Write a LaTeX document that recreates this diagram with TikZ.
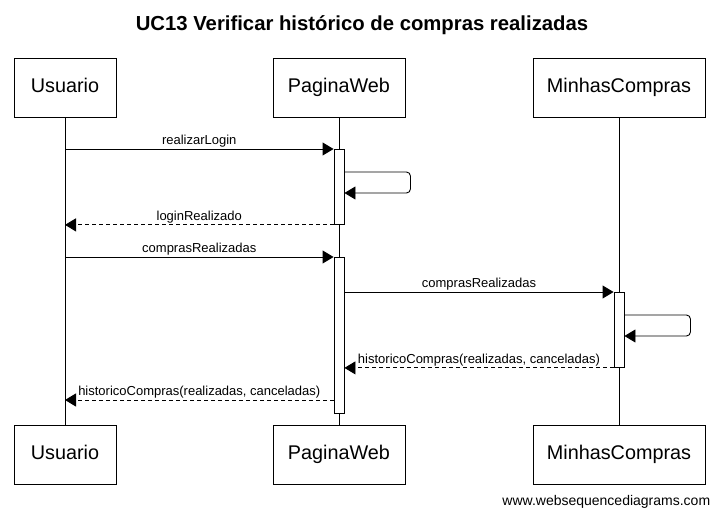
\documentclass[tikz,border=0pt]{standalone}
\usepackage{fontspec}
\setmainfont{Liberation Sans}
\usetikzlibrary{arrows.meta}
\begin{document}
\begin{tikzpicture}[x=1pt, y=-1pt, line width=0.9pt,
    actor/.style={draw, minimum height=59pt, text height=14pt, text depth=4pt,
        font=\fontsize{19.8}{22}\selectfont},
    act/.style={draw, fill=white, minimum width=10pt, inner sep=0pt, anchor=north},
    msg/.style={-{Triangle[length=11pt,width=13pt]}},
    reply/.style={msg, dashed, dash pattern=on 4pt off 3pt},
    lbl/.style={font=\fontsize{13}{15}\selectfont, inner sep=1pt}]
    \useasboundingbox (0,0) rectangle (721,518);
    \node[font=\bfseries\fontsize{20.3}{23}\selectfont] (title) at (362,25) {UC13 Verificar histórico de compras realizadas};
    % participants, top and bottom
    \foreach \n/\x/\w/\t in {usr/65/102/Usuario, web/339/132/PaginaWeb, mc/619/172/MinhasCompras}{
        \node[actor, minimum width=\w pt] (\n top) at (\x,87.5) {\t};
        \node[actor, minimum width=\w pt] (\n bot) at (\x,455) {\t};
        \draw (\n top) -- (\n bot);
    };
    % activations
    \node[act, minimum height=75pt] (act1) at (339,149) {};
    \node[act, minimum height=156pt] (act2) at (339,257) {};
    \node[act, minimum height=75pt] (act3) at (619,292) {};
    % messages
    \draw[msg] (usrtop |- act1.north) -- node[lbl, above] {realizarLogin} (act1.north west);
    \draw[msg, rounded corners=4pt] (act1.east |- 0,172) -- ++(66,0) -- ++(0,21) -- ++(-66,0);
    \draw[reply] (act1.south west) -- node[lbl, above] {loginRealizado} (usrtop |- act1.south);
    \draw[msg] (usrtop |- act2.north) -- node[lbl, above] {comprasRealizadas} (act2.north west);
    \draw[msg] (act2.east |- act3.north) -- node[lbl, above] {comprasRealizadas} (act3.north west);
    \draw[msg, rounded corners=4pt] (act3.east |- 0,315) -- ++(66,0) -- ++(0,21) -- ++(-66,0);
    \draw[reply] (act3.south west) -- node[lbl, above] {historicoCompras(realizadas, canceladas)} (act2.east |- act3.south);
    \draw[reply] (act2.west |- 0,400) -- node[lbl, above] {historicoCompras(realizadas, canceladas)} (usrtop |- 0,400);
    \node[anchor=east, font=\fontsize{14}{16}\selectfont] (site) at (714,502) {www.websequencediagrams.com};
\end{tikzpicture}
\end{document}
